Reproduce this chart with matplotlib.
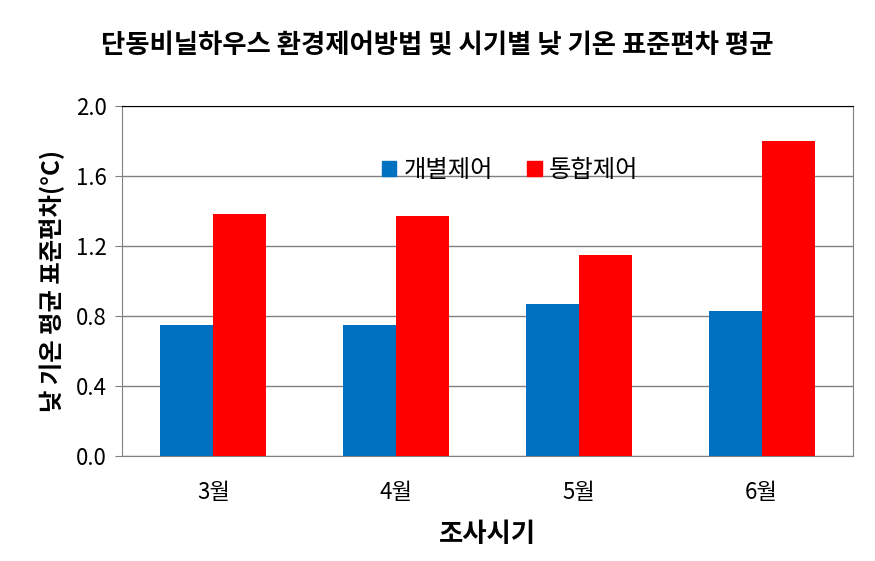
import numpy as np
import matplotlib.pyplot as plt
from matplotlib.patches import Patch

plt.rcParams['font.family'] = ['Noto Sans CJK KR', 'DejaVu Sans']

months = ["3월", "4월", "5월", "6월"]
individual = [0.75, 0.75, 0.87, 0.83]   # 개별제어
integrated = [1.38, 1.37, 1.15, 1.80]   # 통합제어
yticks = [0.0, 0.4, 0.8, 1.2, 1.6, 2.0]

fig = plt.figure(figsize=(8.75, 5.61), dpi=100)
ax = fig.add_axes([0.1394, 0.1872, 0.9749 - 0.1394, 0.8111 - 0.1872])

x = np.arange(len(months))
w = 0.29
ax.bar(x - w / 2, individual, w, color="#0070C0", zorder=3)
ax.bar(x + w / 2, integrated, w, color="#FF0000", zorder=3)

ax.set_xlim(-0.5, len(months) - 0.5)
ax.set_ylim(0, 2.0)
ax.set_yticks(yticks)
ax.set_yticklabels([f"{v:.1f}" for v in yticks], fontsize=16)
ax.set_xticks(x)
ax.set_xticklabels(months, fontsize=16)
ax.tick_params(axis="x", length=0, pad=18)
ax.tick_params(axis="y", length=5, color="#808080", pad=6)
ax.yaxis.grid(True, color="#808080", linewidth=1, zorder=0)

for side in ["left", "bottom", "right"]:
    ax.spines[side].set_color("#808080")
ax.spines["top"].set_color("black")

ax.set_xlabel("조사시기", fontsize=19, fontweight="bold", labelpad=12)
ax.set_ylabel("낮 기온 평균 표준편차(°C)", fontsize=17.5, fontweight="bold", labelpad=8)
fig.text(0.5, 1 - 45 / 561, "단동비닐하우스 환경제어방법 및 시기별 낮 기온 표준편차 평균",
         ha="center", va="center", fontsize=19, fontweight="bold")

handles = [Patch(color="#0070C0", label="개별제어"), Patch(color="#FF0000", label="통합제어")]
fig.legend(handles=handles, loc="center", bbox_to_anchor=(510 / 875, 1 - 170 / 561),
           ncol=2, frameon=False, fontsize=17.5, handlelength=0.6, handleheight=0.6,
           handletextpad=0.3, columnspacing=1.4)

fig.savefig("out.png", dpi=100)
